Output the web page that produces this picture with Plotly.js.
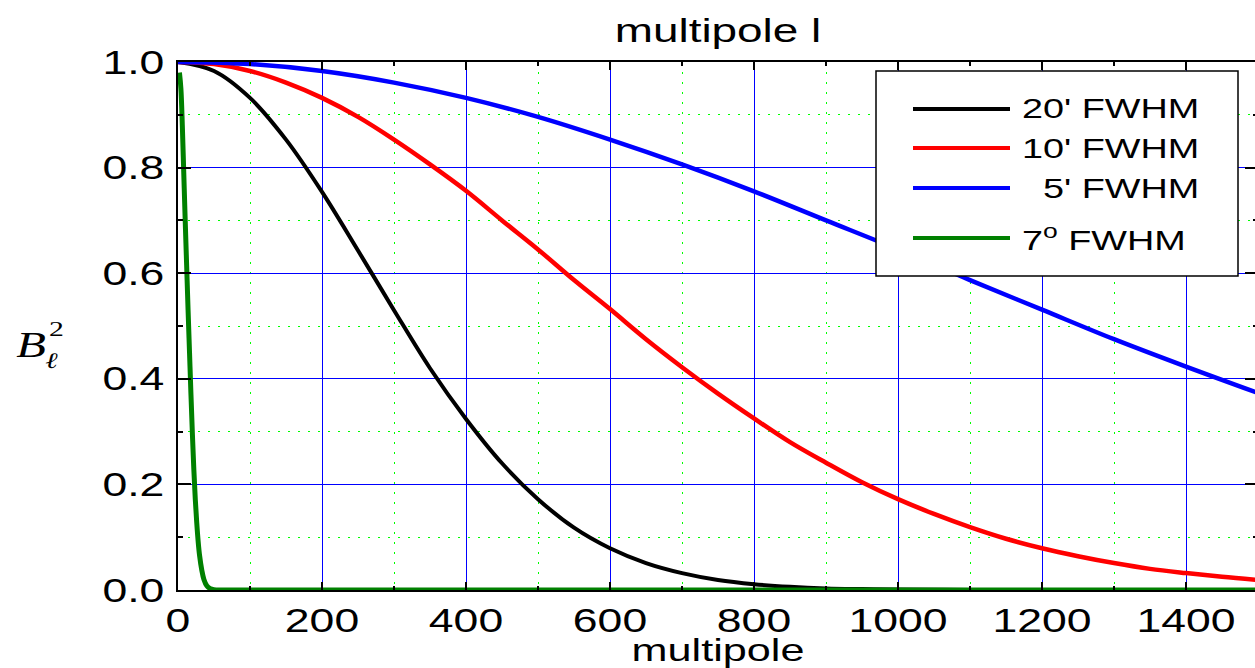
<!DOCTYPE html>
<html>
<head>
<meta charset="utf-8">
<script src="https://cdn.plot.ly/plotly-3.0.1.min.js"></script>
<style>
html, body { margin:0; padding:0; overflow:hidden; background:#fff; }
#chart { width:1262px; height:668px; }
</style>
</head>
<body>
<div id="chart"></div>
<script>
// ---- data ----
const seriesNames = ["20' FWHM", "10' FWHM", "\u00a0\u00a05' FWHM", "7<sup>o</sup> FWHM"];
const seriesColors = ["#000000", "#ff0000", "#0000ff", "#008000"];

const lBlack = [0,50,100,150,200,250,300,350,400,450,500,550,600,650,700,750,800,850,900,950,1000,1100,1200,1500];
const bBlack = [1.0,0.983,0.932,0.853,0.754,0.643,0.53,0.42,0.324,0.24,0.172,0.118,0.079,0.051,0.032,0.019,0.011,0.006,0.003,0.0017,0.0008,0.0002,0,0];

const lRed = [0,50,100,150,200,250,300,350,400,450,500,550,600,650,700,750,800,850,900,950,1000,1050,1100,1150,1200,1250,1300,1350,1400,1450,1500];
const bRed = [1.0,0.996,0.983,0.961,0.932,0.896,0.853,0.806,0.756,0.70,0.645,0.587,0.532,0.475,0.422,0.372,0.325,0.28,0.241,0.204,0.172,0.144,0.119,0.097,0.079,0.064,0.051,0.040,0.032,0.025,0.019];

const lBlue = [0,100,200,300,400,500,600,700,800,900,1000,1100,1200,1300,1400,1500];
const bBlue = [1.0,0.996,0.983,0.961,0.932,0.896,0.853,0.806,0.755,0.70,0.645,0.587,0.531,0.475,0.423,0.373];

const lGreen = [2,4,6,8,10,12,14,16,18,20,22,24,26,28,30,33,36,40,45,50,60,1500];
const bGreen = [0.98,0.95,0.88,0.79,0.70,0.615,0.53,0.45,0.37,0.295,0.228,0.172,0.128,0.092,0.065,0.038,0.02,0.008,0.0025,0.0007,0,0];

const xTickVals = [0,200,400,600,800,1000,1200,1400];
const yTickVals = [0,0.2,0.4,0.6,0.8,1.0];

// ---- layout constants ----
const FONT = "Liberation Sans, Arial, sans-serif";
const STRETCH = 1.35;
const ML = 178, MT = 62, PW = 1080, PH = 528;
const px2x = p => (p - ML) / PW;
const py2y = p => (MT + PH - p) / PH;

const xs = [lBlack, lRed, lBlue, lGreen];
const ys = [bBlack, bRed, bBlue, bGreen];
const widths = [4, 4.5, 4.5, 5];

const data = xs.map((x, i) => ({
  type: 'scatter', mode: 'lines', x: x, y: ys[i], name: seriesNames[i],
  line: { color: seriesColors[i], width: widths[i], shape: 'spline', smoothing: 1 },
  hoverinfo: 'skip'
}));

// manual legend (box, line samples, labels)
const legRowY = [109, 148, 188, 238];
const shapes = [{
  type: 'rect', xref: 'paper', yref: 'paper', layer: 'above',
  x0: px2x(876), x1: px2x(1238), y0: py2y(276), y1: py2y(71),
  line: { color: '#000', width: 1.5 }, fillcolor: '#fff'
}];
const annotations = [];
seriesNames.forEach((nm, i) => {
  shapes.push({
    type: 'line', xref: 'paper', yref: 'paper', layer: 'above',
    x0: px2x(913), x1: px2x(1010), y0: py2y(legRowY[i]), y1: py2y(legRowY[i]),
    line: { color: seriesColors[i], width: 4 }
  });
  annotations.push({
    xref: 'paper', yref: 'paper', x: px2x(1020), y: py2y(legRowY[i]),
    xanchor: 'left', yanchor: 'middle', showarrow: false, text: nm,
    font: { family: FONT, size: 28, color: '#000' }
  });
});
// y-axis label B_l^2
annotations.push({ xref:'paper', yref:'paper', x: px2x(31), y: py2y(345), xanchor:'center', yanchor:'middle',
  showarrow:false, text:'<i>B</i>', font:{ family:'Liberation Serif, DejaVu Serif, serif', size:36, color:'#000' } });
annotations.push({ xref:'paper', yref:'paper', x: px2x(56), y: py2y(329), xanchor:'center', yanchor:'middle',
  showarrow:false, text:'2', font:{ family:'Liberation Serif, DejaVu Serif, serif', size:22, color:'#000' } });
annotations.push({ xref:'paper', yref:'paper', x: px2x(52), y: py2y(360), xanchor:'center', yanchor:'middle',
  showarrow:false, text:'<i>\u2113</i>', font:{ family:'DejaVu Serif, Liberation Serif, serif', size:22, color:'#000' } });

const axisCommon = {
  showline: true, linecolor: '#000', linewidth: 2, mirror: 'allticks',
  ticks: 'inside', tickcolor: '#000', tickwidth: 2,
  showgrid: true, gridcolor: '#0000ff', gridwidth: 1, zeroline: false,
  tickfont: { family: FONT, size: 33, color: '#000' }
};

const layout = {
  width: 1262, height: 668,
  margin: { l: ML, r: 1262 - ML - PW, t: MT, b: 668 - MT - PH, pad: 0 },
  paper_bgcolor: '#fff', plot_bgcolor: '#fff',
  showlegend: false,
  title: { text: 'multipole l', x: (ML + PW / 2) / 1262, xanchor: 'center', xref: 'container',
           y: 1 - 30 / 668, yanchor: 'middle', yref: 'container',
           font: { family: FONT, size: 34, color: '#000' } },
  xaxis: Object.assign({}, axisCommon, {
    range: [0, 1500], tickvals: xTickVals, ticktext: xTickVals.map(String), ticklen: 8,
    ticklabelstandoff: 0,
    minor: { dtick: 100, tick0: 0, ticks: 'inside', ticklen: 4, tickwidth: 2, tickcolor: '#000',
             showgrid: true, gridcolor: '#00ff00', gridwidth: 1, griddash: '2px,8px' },
    title: { text: 'multipole', standoff: 0, font: { family: FONT, size: 32, color: '#000' } }
  }),
  yaxis: Object.assign({}, axisCommon, {
    range: [0, 1], tickvals: yTickVals, ticktext: yTickVals.map(v => v.toFixed(1)), ticklen: 13,
    ticklabelstandoff: 5,
    minor: { dtick: 0.1, tick0: 0, ticks: 'inside', ticklen: 5, tickwidth: 2, tickcolor: '#000',
             showgrid: true, gridcolor: '#00ff00', gridwidth: 1, griddash: '2px,8px' }
  }),
  shapes: shapes,
  annotations: annotations
};

function widen(t, pivot) {
  const tr = t.getAttribute('transform') || '';
  t.setAttribute('transform', tr + ' translate(' + pivot + ',0) scale(' + STRETCH + ',1) translate(' + (-pivot) + ',0)');
}

const gd = document.getElementById('chart');
Plotly.newPlot(gd, data, layout, { displayModeBar: false, staticPlot: true }).then(function () {
  // horizontally widen all text to match the stretched glyphs of the reference
  const done = new Set();
  gd.querySelectorAll('g.annotation').forEach(function (g) {
    const idx = +g.getAttribute('data-index');
    const ann = layout.annotations[idx];
    const t = g.querySelector('text');
    if (!t) return;
    const bb = t.getBBox();
    const pivot = (ann && ann.xanchor === 'left') ? bb.x : bb.x + bb.width / 2;
    widen(t, pivot);
    done.add(t);
  });
  gd.querySelectorAll('svg text').forEach(function (t) {
    if (done.has(t)) return;
    const x = parseFloat(t.getAttribute('x')) || 0;
    widen(t, x);
  });
});
</script>
</body>
</html>
